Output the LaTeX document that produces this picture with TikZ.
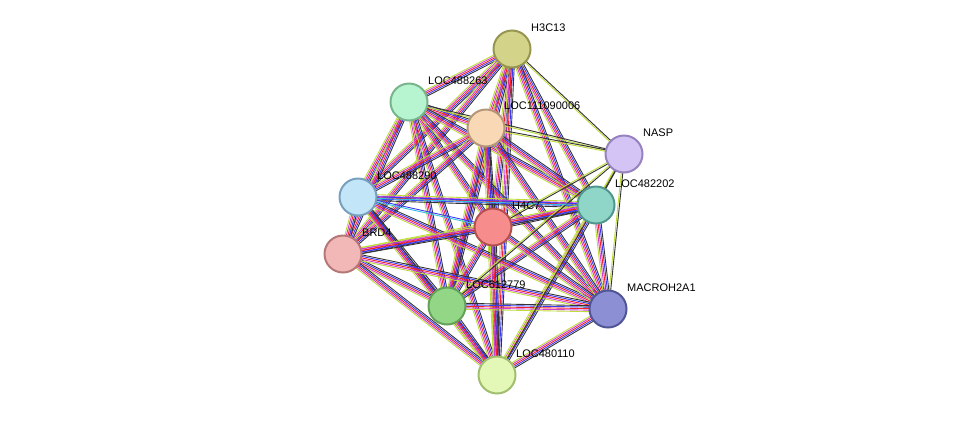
\documentclass[tikz,border=0pt]{standalone}
\usepackage{fontspec}
\setmainfont{Liberation Sans}
\usetikzlibrary{calc}
\definecolor{eR}{HTML}{F0202A}
\definecolor{eB}{HTML}{3A3AF5}
\definecolor{eM}{HTML}{D040D0}
\definecolor{eY}{HTML}{BFDD3A}
\definecolor{eK}{HTML}{333333}
\definecolor{eC}{HTML}{30C0E0}
\newcommand{\myedge}[2]{%
  \foreach \c [count=\i] in {eY,eM,eR,eB,eK}{%
    \pgfmathsetmacro\o{(\i-3)*1.5}%
    \draw[\c,line width=0.9pt] ($(#1)!\o pt!90:(#2)$) -- ($(#2)!\o pt!-90:(#1)$);
  }}
\newcommand{\myedgeb}[2]{%
  \foreach \c [count=\i] in {eY,eK}{%
    \pgfmathsetmacro\o{(\i-1.5)*1.5}%
    \draw[\c,line width=0.9pt] ($(#1)!\o pt!90:(#2)$) -- ($(#2)!\o pt!-90:(#1)$);
  }}
\tikzset{prot/.style={circle,draw,line width=2pt,minimum size=37pt,inner sep=0pt},
lab/.style={anchor=west,font=\fontsize{11pt}{12pt}\selectfont,inner sep=0pt}}
\begin{document}
\begin{tikzpicture}[x=1pt,y=-1pt]
\useasboundingbox (0,0) rectangle (976,421);
\coordinate (A) at (512,49);
\coordinate (B) at (409,102);
\coordinate (C) at (486,128);
\coordinate (D) at (624,154);
\coordinate (E) at (596,205);
\coordinate (F) at (358,197);
\coordinate (G) at (493,227);
\coordinate (H) at (343,254);
\coordinate (I) at (447,306);
\coordinate (J) at (608,309);
\coordinate (K) at (497,375);
\foreach \u/\v in {A/B,A/C,A/E,A/F,A/G,A/H,A/I,A/J,A/K,B/C,B/E,B/F,B/G,B/H,B/I,B/J,B/K,C/E,C/F,C/G,C/H,C/I,C/J,C/K,E/F,E/G,E/H,E/I,E/J,E/K,F/H,F/I,F/J,F/K,G/H,G/I,G/J,G/K,H/I,H/J,H/K,I/J,I/K,J/K}{\myedge{\u}{\v}}
\foreach \u/\v in {A/D,B/D,C/D,D/E,D/G,D/I,D/J,D/K}{\myedgeb{\u}{\v}}
\draw[eB,line width=0.9pt] ($(F)!0.8pt!90:(E)$) -- ($(E)!0.8pt!-90:(F)$);
\draw[eC,line width=0.9pt] ($(F)!-0.8pt!90:(E)$) -- ($(E)!-0.8pt!-90:(F)$);
\draw[eB,line width=0.9pt] ($(F)!0.8pt!90:(G)$) -- ($(G)!0.8pt!-90:(F)$);
\draw[eC,line width=0.9pt] ($(F)!-0.8pt!90:(G)$) -- ($(G)!-0.8pt!-90:(F)$);
\node[prot,fill={rgb,255:red,212;green,211;blue,138},draw={rgb,255:red,150;green,150;blue,80}] (nA) at (A) {};
\node[prot,fill={rgb,255:red,182;green,245;blue,207},draw={rgb,255:red,120;green,180;blue,140}] (nB) at (B) {};
\node[prot,fill={rgb,255:red,249;green,216;blue,181},draw={rgb,255:red,180;green,150;blue,120}] (nC) at (C) {};
\node[prot,fill={rgb,255:red,212;green,195;blue,245},draw={rgb,255:red,150;green,130;blue,190}] (nD) at (D) {};
\node[prot,fill={rgb,255:red,143;green,214;blue,201},draw={rgb,255:red,80;green,150;blue,140}] (nE) at (E) {};
\node[prot,fill={rgb,255:red,194;green,229;blue,248},draw={rgb,255:red,120;green,160;blue,190}] (nF) at (F) {};
\node[prot,fill={rgb,255:red,246;green,140;blue,140},draw={rgb,255:red,180;green,80;blue,80}] (nG) at (G) {};
\node[prot,fill={rgb,255:red,242;green,184;blue,184},draw={rgb,255:red,180;green,120;blue,120}] (nH) at (H) {};
\node[prot,fill={rgb,255:red,147;green,215;blue,134},draw={rgb,255:red,100;green,160;blue,90}] (nI) at (I) {};
\node[prot,fill={rgb,255:red,140;green,143;blue,212},draw={rgb,255:red,80;green,85;blue,150}] (nJ) at (J) {};
\node[prot,fill={rgb,255:red,227;green,247;blue,182},draw={rgb,255:red,160;green,190;blue,110}] (nK) at (K) {};
\node[lab] (lA) at ($(A)+(19,-21)$) {H3C13};
\node[lab] (lB) at ($(B)+(19,-21)$) {LOC488263};
\node[lab] (lC) at ($(C)+(18,-22)$) {LOC111090006};
\node[lab] (lD) at ($(D)+(19,-21)$) {NASP};
\node[lab] (lE) at ($(E)+(19,-21)$) {LOC482202};
\node[lab] (lF) at ($(F)+(19,-21)$) {LOC488290};
\node[lab] (lG) at ($(G)+(19,-21)$) {H4C7};
\node[lab] (lH) at ($(H)+(19,-21)$) {BRD4};
\node[lab] (lI) at ($(I)+(19,-21)$) {LOC612779};
\node[lab] (lJ) at ($(J)+(19,-21)$) {MACROH2A1};
\node[lab] (lK) at ($(K)+(19,-21)$) {LOC480110};
\end{tikzpicture}
\end{document}
